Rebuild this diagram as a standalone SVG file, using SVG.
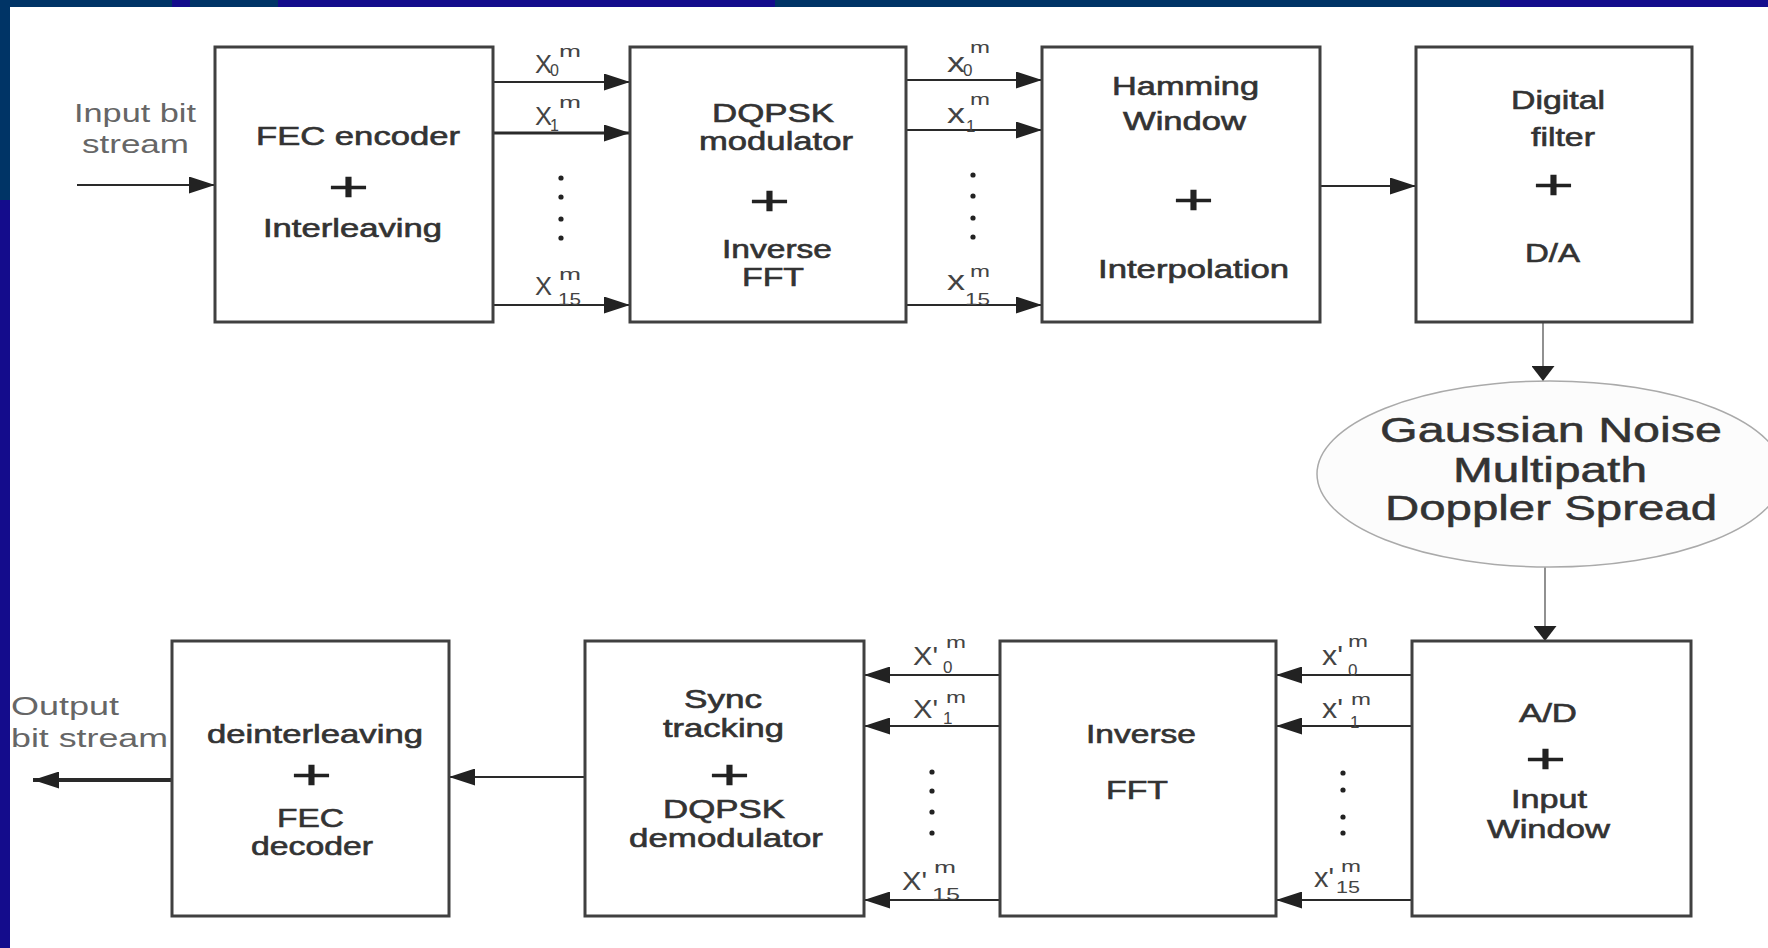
<svg xmlns="http://www.w3.org/2000/svg" width="1768" height="948" viewBox="0 0 1768 948">
<style>
.box{fill:#fff;stroke:#404040;stroke-width:3}
.t{font-family:"Liberation Sans",Arial,sans-serif;font-size:25px;fill:#333;stroke:#333;stroke-width:0.6}
.plus{font-family:"Liberation Sans",Arial,sans-serif;font-size:40px;fill:#222;stroke:#222;stroke-width:0.6}
.lbl{font-family:"Liberation Sans",Arial,sans-serif;fill:#444}
.io{font-family:"Liberation Sans",Arial,sans-serif;font-size:26px;fill:#666}
.big{font-family:"Liberation Sans",Arial,sans-serif;font-size:35px;fill:#333;stroke:#333;stroke-width:0.5}
.ln{stroke:#2a2a2a;stroke-width:2.2;fill:none}
.thin{stroke:#555;stroke-width:1.3;fill:none}
.dot{fill:#222}
</style>
<defs>
<marker id="ah" viewBox="0 0 26 17" refX="26" refY="8.5" markerWidth="26" markerHeight="17" orient="auto" markerUnits="userSpaceOnUse"><path d="M0,0 L26,8.5 L0,17 z" fill="#222"/></marker>
<marker id="av" viewBox="0 0 15 23" refX="15" refY="11.5" markerWidth="15" markerHeight="23" orient="auto" markerUnits="userSpaceOnUse"><path d="M0,0 L15,11.5 L0,23 z" fill="#222"/></marker>
</defs>
<rect x="0" y="0" width="1768" height="948" fill="#fff"/>
<g id="frame">
<rect x="0" y="0" width="1768" height="7" fill="#140c8c"/>
<rect x="0" y="0" width="172" height="7" fill="#003466"/>
<rect x="190" y="0" width="88" height="7" fill="#003466"/>
<rect x="775" y="0" width="725" height="7" fill="#003466"/>
<rect x="0" y="0" width="10" height="948" fill="#140c8c"/>
<rect x="0" y="0" width="10" height="200" fill="#003466"/>
</g>
<g id="connectors">
<line class="ln" x1="77" y1="185" x2="215" y2="185" marker-end="url(#ah)"/>
<line class="ln" x1="493" y1="82" x2="630" y2="82" marker-end="url(#ah)"/>
<line class="ln" x1="493" y1="133" x2="630" y2="133" marker-end="url(#ah)" style="stroke-width:3"/>
<line class="ln" x1="493" y1="305" x2="630" y2="305" marker-end="url(#ah)"/>
<line class="ln" x1="906" y1="80" x2="1042" y2="80" marker-end="url(#ah)"/>
<line class="ln" x1="906" y1="130" x2="1042" y2="130" marker-end="url(#ah)"/>
<line class="ln" x1="906" y1="305" x2="1042" y2="305" marker-end="url(#ah)"/>
<line class="ln" x1="1320" y1="186" x2="1416" y2="186" marker-end="url(#ah)"/>
<line class="thin" x1="1543" y1="322" x2="1543" y2="381" marker-end="url(#av)"/>
<line class="thin" x1="1545" y1="567" x2="1545" y2="641" marker-end="url(#av)"/>
<line class="ln" x1="1412" y1="675" x2="1276" y2="675" marker-end="url(#ah)"/>
<line class="ln" x1="1412" y1="726" x2="1276" y2="726" marker-end="url(#ah)"/>
<line class="ln" x1="1412" y1="900" x2="1276" y2="900" marker-end="url(#ah)"/>
<line class="ln" x1="1000" y1="675" x2="864" y2="675" marker-end="url(#ah)"/>
<line class="ln" x1="1000" y1="726" x2="864" y2="726" marker-end="url(#ah)"/>
<line class="ln" x1="1000" y1="900" x2="864" y2="900" marker-end="url(#ah)"/>
<line class="ln" x1="585" y1="777" x2="449" y2="777" marker-end="url(#ah)"/>
<line class="ln" x1="172" y1="780" x2="33" y2="780" marker-end="url(#ah)" style="stroke-width:4"/>
<circle class="dot" cx="561" cy="178" r="2.6"/><circle class="dot" cx="561" cy="197" r="2.6"/><circle class="dot" cx="561" cy="219" r="2.6"/><circle class="dot" cx="561" cy="238" r="2.6"/>
<circle class="dot" cx="973" cy="175" r="2.6"/><circle class="dot" cx="973" cy="196" r="2.6"/><circle class="dot" cx="973" cy="218" r="2.6"/><circle class="dot" cx="973" cy="237" r="2.6"/>
<circle class="dot" cx="932" cy="772" r="2.6"/><circle class="dot" cx="932" cy="791" r="2.6"/><circle class="dot" cx="932" cy="812" r="2.6"/><circle class="dot" cx="932" cy="833" r="2.6"/>
<circle class="dot" cx="1343" cy="773" r="2.6"/><circle class="dot" cx="1343" cy="790" r="2.6"/><circle class="dot" cx="1343" cy="817" r="2.6"/><circle class="dot" cx="1343" cy="833" r="2.6"/>
</g>
<g id="labels">
<text class="io" x="74" y="122" textLength="122" lengthAdjust="spacingAndGlyphs">Input bit</text>
<text class="io" x="82" y="153" textLength="107" lengthAdjust="spacingAndGlyphs">stream</text>
<text class="io" x="11" y="715" textLength="108" lengthAdjust="spacingAndGlyphs">Output</text>
<text class="io" x="11" y="747" textLength="157" lengthAdjust="spacingAndGlyphs">bit stream</text>

<text class="lbl"><tspan x="535" y="73" font-size="25" textLength="17" lengthAdjust="spacingAndGlyphs">X</tspan><tspan x="550" y="76" font-size="16">0</tspan><tspan x="559" y="57" font-size="17" textLength="22" lengthAdjust="spacingAndGlyphs">m</tspan></text>
<text class="lbl"><tspan x="535" y="125" font-size="25" textLength="17" lengthAdjust="spacingAndGlyphs">X</tspan><tspan x="550" y="131" font-size="16">1</tspan><tspan x="559" y="108" font-size="17" textLength="22" lengthAdjust="spacingAndGlyphs">m</tspan></text>
<text class="lbl"><tspan x="535" y="295" font-size="25" textLength="17" lengthAdjust="spacingAndGlyphs">X</tspan><tspan x="558" y="305" font-size="17" textLength="23" lengthAdjust="spacingAndGlyphs">15</tspan><tspan x="559" y="280" font-size="17" textLength="22" lengthAdjust="spacingAndGlyphs">m</tspan></text>

<text class="lbl"><tspan x="947" y="72" font-size="28" textLength="18" lengthAdjust="spacingAndGlyphs">x</tspan><tspan x="963" y="76" font-size="17">0</tspan><tspan x="970" y="53" font-size="17" textLength="20" lengthAdjust="spacingAndGlyphs">m</tspan></text>
<text class="lbl"><tspan x="947" y="123" font-size="28" textLength="18" lengthAdjust="spacingAndGlyphs">x</tspan><tspan x="966" y="132" font-size="17">1</tspan><tspan x="970" y="105" font-size="17" textLength="20" lengthAdjust="spacingAndGlyphs">m</tspan></text>
<text class="lbl"><tspan x="947" y="290" font-size="28" textLength="18" lengthAdjust="spacingAndGlyphs">x</tspan><tspan x="965" y="305" font-size="17" textLength="25" lengthAdjust="spacingAndGlyphs">15</tspan><tspan x="970" y="277" font-size="17" textLength="20" lengthAdjust="spacingAndGlyphs">m</tspan></text>

<text class="lbl"><tspan x="913" y="665" font-size="25" textLength="25" lengthAdjust="spacingAndGlyphs">X'</tspan><tspan x="943" y="673" font-size="17">0</tspan><tspan x="946" y="648" font-size="17" textLength="20" lengthAdjust="spacingAndGlyphs">m</tspan></text>
<text class="lbl"><tspan x="913" y="718" font-size="25" textLength="25" lengthAdjust="spacingAndGlyphs">X'</tspan><tspan x="943" y="724" font-size="17">1</tspan><tspan x="946" y="703" font-size="17" textLength="20" lengthAdjust="spacingAndGlyphs">m</tspan></text>
<text class="lbl"><tspan x="902" y="890" font-size="25" textLength="25" lengthAdjust="spacingAndGlyphs">X'</tspan><tspan x="932" y="900" font-size="17" textLength="28" lengthAdjust="spacingAndGlyphs">15</tspan><tspan x="934" y="873" font-size="17" textLength="22" lengthAdjust="spacingAndGlyphs">m</tspan></text>

<text class="lbl"><tspan x="1322" y="665" font-size="28" textLength="21" lengthAdjust="spacingAndGlyphs">x'</tspan><tspan x="1348" y="676" font-size="17">0</tspan><tspan x="1348" y="647" font-size="17" textLength="20" lengthAdjust="spacingAndGlyphs">m</tspan></text>
<text class="lbl"><tspan x="1322" y="718" font-size="28" textLength="21" lengthAdjust="spacingAndGlyphs">x'</tspan><tspan x="1350" y="728" font-size="17">1</tspan><tspan x="1351" y="705" font-size="17" textLength="20" lengthAdjust="spacingAndGlyphs">m</tspan></text>
<text class="lbl"><tspan x="1314" y="887" font-size="28" textLength="20" lengthAdjust="spacingAndGlyphs">x'</tspan><tspan x="1336" y="893" font-size="17" textLength="24" lengthAdjust="spacingAndGlyphs">15</tspan><tspan x="1341" y="872" font-size="17" textLength="20" lengthAdjust="spacingAndGlyphs">m</tspan></text>
</g>
<g id="fec-encoder">
<rect class="box" x="215" y="47" width="278" height="275"/>
<text class="t" x="256" y="145" textLength="204" lengthAdjust="spacingAndGlyphs">FEC encoder</text>
<text class="plus" x="328" y="201" textLength="41" lengthAdjust="spacingAndGlyphs">+</text>
<text class="t" x="263" y="237" textLength="179" lengthAdjust="spacingAndGlyphs">Interleaving</text>
</g>
<g id="dqpsk-modulator">
<rect class="box" x="630" y="47" width="276" height="275"/>
<text class="t" x="712" y="122" textLength="122" lengthAdjust="spacingAndGlyphs">DQPSK</text>
<text class="t" x="699" y="150" textLength="154" lengthAdjust="spacingAndGlyphs">modulator</text>
<text class="plus" x="749" y="215" textLength="41" lengthAdjust="spacingAndGlyphs">+</text>
<text class="t" x="722" y="258" textLength="110" lengthAdjust="spacingAndGlyphs">Inverse</text>
<text class="t" x="742" y="286" textLength="62" lengthAdjust="spacingAndGlyphs">FFT</text>
</g>
<g id="hamming-window">
<rect class="box" x="1042" y="47" width="278" height="275"/>
<text class="t" x="1112" y="95" textLength="147" lengthAdjust="spacingAndGlyphs">Hamming</text>
<text class="t" x="1123" y="130" textLength="123" lengthAdjust="spacingAndGlyphs">Window</text>
<text class="plus" x="1173" y="214" textLength="41" lengthAdjust="spacingAndGlyphs">+</text>
<text class="t" x="1098" y="278" textLength="191" lengthAdjust="spacingAndGlyphs">Interpolation</text>
</g>
<g id="digital-filter">
<rect class="box" x="1416" y="47" width="276" height="275"/>
<text class="t" x="1511" y="109" textLength="94" lengthAdjust="spacingAndGlyphs">Digital</text>
<text class="t" x="1531" y="146" textLength="64" lengthAdjust="spacingAndGlyphs">filter</text>
<text class="plus" x="1533" y="199" textLength="41" lengthAdjust="spacingAndGlyphs">+</text>
<text class="t" x="1525" y="262" textLength="55" lengthAdjust="spacingAndGlyphs">D/A</text>
</g>
<g id="channel">
<ellipse cx="1550" cy="474" rx="233" ry="93" fill="#fcfcfc" stroke="#aaa" stroke-width="1.5"/>
<text class="big" x="1380" y="442" textLength="342" lengthAdjust="spacingAndGlyphs">Gaussian Noise</text>
<text class="big" x="1453" y="482" textLength="194" lengthAdjust="spacingAndGlyphs">Multipath</text>
<text class="big" x="1385" y="520" textLength="332" lengthAdjust="spacingAndGlyphs">Doppler Spread</text>
</g>
<g id="ad-input-window">
<rect class="box" x="1412" y="641" width="279" height="275"/>
<text class="t" x="1519" y="722" textLength="58" lengthAdjust="spacingAndGlyphs">A/D</text>
<text class="plus" x="1525" y="773" textLength="41" lengthAdjust="spacingAndGlyphs">+</text>
<text class="t" x="1511" y="808" textLength="76" lengthAdjust="spacingAndGlyphs">Input</text>
<text class="t" x="1487" y="838" textLength="123" lengthAdjust="spacingAndGlyphs">Window</text>
</g>
<g id="inverse-fft">
<rect class="box" x="1000" y="641" width="276" height="275"/>
<text class="t" x="1086" y="743" textLength="110" lengthAdjust="spacingAndGlyphs">Inverse</text>
<text class="t" x="1106" y="799" textLength="62" lengthAdjust="spacingAndGlyphs">FFT</text>
</g>
<g id="sync-demod">
<rect class="box" x="585" y="641" width="279" height="275"/>
<text class="t" x="684" y="708" textLength="78" lengthAdjust="spacingAndGlyphs">Sync</text>
<text class="t" x="663" y="737" textLength="121" lengthAdjust="spacingAndGlyphs">tracking</text>
<text class="plus" x="709" y="789" textLength="41" lengthAdjust="spacingAndGlyphs">+</text>
<text class="t" x="663" y="818" textLength="122" lengthAdjust="spacingAndGlyphs">DQPSK</text>
<text class="t" x="629" y="847" textLength="194" lengthAdjust="spacingAndGlyphs">demodulator</text>
</g>
<g id="deinterleaving">
<rect class="box" x="172" y="641" width="277" height="275"/>
<text class="t" x="207" y="743" textLength="216" lengthAdjust="spacingAndGlyphs">deinterleaving</text>
<text class="plus" x="291" y="789" textLength="41" lengthAdjust="spacingAndGlyphs">+</text>
<text class="t" x="277" y="827" textLength="67" lengthAdjust="spacingAndGlyphs">FEC</text>
<text class="t" x="251" y="855" textLength="122" lengthAdjust="spacingAndGlyphs">decoder</text>
</g>
</svg>
